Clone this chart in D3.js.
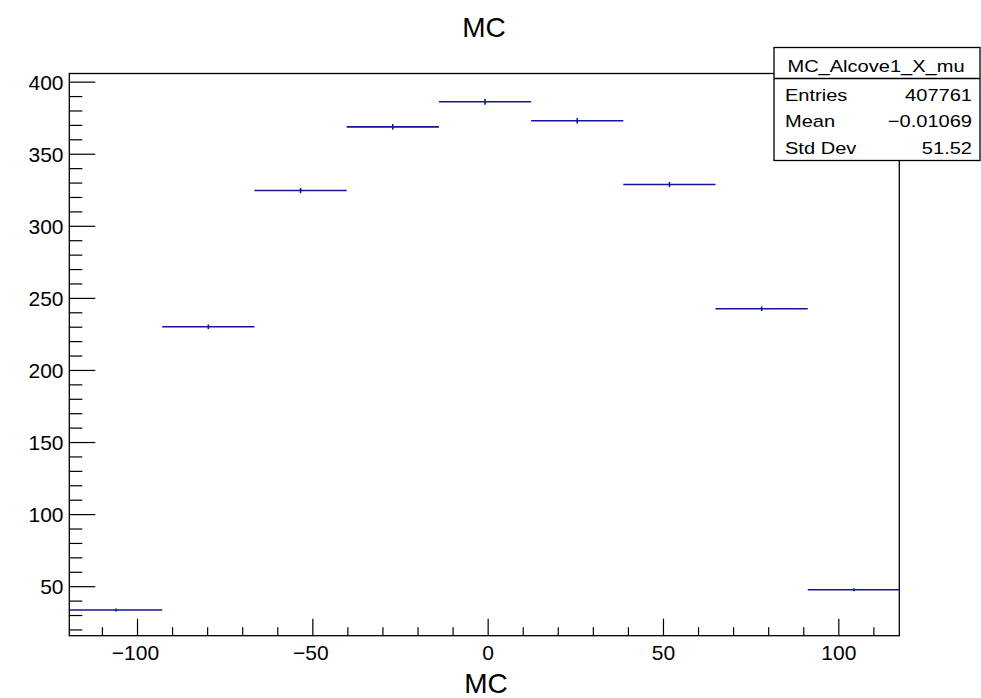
<!DOCTYPE html>
<html><head><meta charset="utf-8">
<script src="https://cdn.jsdelivr.net/npm/d3@7"></script>
<style>body{margin:0;background:#fff}svg{display:block}text{font-family:"Liberation Sans",Arial,Helvetica,sans-serif;fill:#000}</style>
</head><body>
<script>
const binCenters = [-106.1, -79.8, -53.5, -27.2, -0.9, 25.4, 51.7, 78.0, 104.3];
const binWidth = 26.3;
const values = [33.8, 230.3, 324.8, 369.0, 386.4, 373.2, 329.0, 242.8, 47.9];
const errors = [1.0, 1.6, 1.8, 1.9, 2.0, 1.9, 1.8, 1.6, 1.0];
const xTicks = [-100, -50, 0, 50, 100];
const yTicks = [50, 100, 150, 200, 250, 300, 350, 400];
const statsTitle = "MC_Alcove1_X_mu";
const statsLabels = ["Entries", "Mean", "Std Dev"];
const statsValues = ["407761", "\u22120.01069", "51.52"];

const W = 981, H = 698;
const L = 69.3, R = 899.3, T = 73.5, B = 635.7;
const svg = d3.select("body").append("svg").attr("width", W).attr("height", H);
const x = d3.scaleLinear().domain([-119.45, 117.25]).range([L, R]);
const y = d3.scaleLinear().domain([16, 406]).range([B, T]);

// frame
svg.append("rect").attr("x", L).attr("y", T).attr("width", R - L).attr("height", B - T)
  .attr("fill", "none").attr("stroke", "#000").attr("stroke-width", 1.3);

// x ticks
const fmt = d3.format("");
const xMinor = d3.range(-110, 118, 10).filter(v => v % 50 !== 0);
svg.append("g").selectAll("line").data(xMinor).join("line")
  .attr("x1", d => x(d)).attr("x2", d => x(d)).attr("y1", B).attr("y2", B - 8.5)
  .attr("stroke", "#000").attr("stroke-width", 1.2);
svg.append("g").selectAll("line").data(xTicks).join("line")
  .attr("x1", d => x(d)).attr("x2", d => x(d)).attr("y1", B).attr("y2", B - 17)
  .attr("stroke", "#000").attr("stroke-width", 1.2);
svg.append("g").selectAll("text").data(xTicks).join("text")
  .attr("x", d => x(d) - (d < 0 ? 2 : 0)).attr("y", 660).attr("text-anchor", "middle")
  .attr("font-size", 21).text(d => fmt(d));

// y ticks
const yMinor = d3.range(20, 406, 10).filter(v => v % 50 !== 0);
svg.append("g").selectAll("line").data(yMinor).join("line")
  .attr("x1", L).attr("x2", L + 13).attr("y1", d => y(d)).attr("y2", d => y(d))
  .attr("stroke", "#000").attr("stroke-width", 1.2);
svg.append("g").selectAll("line").data(yTicks).join("line")
  .attr("x1", L).attr("x2", L + 26).attr("y1", d => y(d)).attr("y2", d => y(d))
  .attr("stroke", "#000").attr("stroke-width", 1.2);
svg.append("g").selectAll("text").data(yTicks).join("text")
  .attr("x", 63.5).attr("y", d => y(d) + 7.6).attr("text-anchor", "end")
  .attr("font-size", 21).text(d => fmt(d));

// data
const col = "#15159a";
const g = svg.append("g");
binCenters.forEach((c, i) => {
  g.append("line").attr("x1", x(c - binWidth / 2)).attr("x2", x(c + binWidth / 2))
    .attr("y1", y(values[i])).attr("y2", y(values[i])).attr("stroke", col).attr("stroke-width", 1.6);
  g.append("line").attr("x1", x(c)).attr("x2", x(c))
    .attr("y1", y(values[i] - errors[i])).attr("y2", y(values[i] + errors[i])).attr("stroke", col).attr("stroke-width", 1.6);
});

// titles
svg.append("text").attr("x", 484).attr("y", 37).attr("text-anchor", "middle").attr("font-size", 28).text("MC");
svg.append("text").attr("x", 486).attr("y", 692.5).attr("text-anchor", "middle").attr("font-size", 28).text("MC");

// stats box
const bx = 774, by = 47.5, bw = 206, bh = 113;
const sx = 1.18;
svg.append("rect").attr("x", bx).attr("y", by).attr("width", bw).attr("height", bh)
  .attr("fill", "#fff").attr("stroke", "#000").attr("stroke-width", 1.3);
svg.append("line").attr("x1", bx).attr("x2", bx + bw).attr("y1", 78.5).attr("y2", 78.5)
  .attr("stroke", "#000").attr("stroke-width", 1.3);
svg.append("text").attr("transform", `translate(${bx + bw / 2 - 1},71.5) scale(${sx},1)`)
  .attr("text-anchor", "middle").attr("font-size", 17).text(statsTitle);
statsLabels.forEach((lab, i) => {
  const yy = 100.5 + i * 26.8;
  svg.append("text").attr("transform", `translate(785,${yy}) scale(${sx},1)`).attr("font-size", 17).text(lab);
  svg.append("text").attr("transform", `translate(972,${yy}) scale(${sx},1)`).attr("text-anchor", "end").attr("font-size", 17).text(statsValues[i]);
});
</script>
</body></html>
